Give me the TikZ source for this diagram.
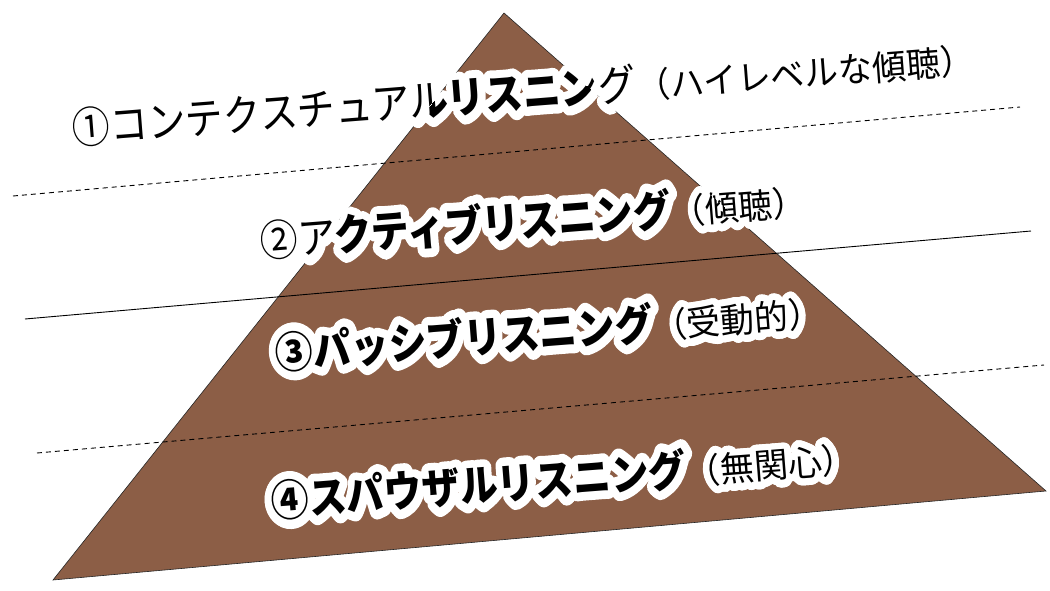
\documentclass[tikz,border=0pt]{standalone}
\usepackage{fontspec}
\newfontfamily\jp{Noto Sans CJK JP}
\newfontfamily\jphalo[FakeBold=40]{Noto Sans CJK JP}
\definecolor{pyrbrown}{RGB}{140,94,70}
\newcommand\mainf{\jp\fontsize{43}{45}\selectfont}
\newcommand\parf{\jp\fontsize{35}{37}\selectfont}
\newcommand\mainpart[2]{\scalebox{0.88}[1]{\mainf#1 #2}}
\newcommand\parpart[1]{\scalebox{0.97}[1]{\parf #1}}
\newcommand\haloed[1]{%
  \makebox[0pt][l]{\pgfsetroundjoin\color{white}\let\jp\jphalo #1}#1}
\tikzset{
  lbl/.style={anchor=base west, inner sep=0pt, outer sep=0pt, rotate=4.5},
  divider/.style={line width=0.9pt, black},
  dashdiv/.style={divider, dash pattern=on 5pt off 4pt},
}
\newcommand\pyrlabels[2]{%
  \node[lbl] (#2one) at (65.2,144.8)
    {\haloed{\mainpart{#1}{①コンテクスチュアルリスニング}\parpart{（ハイレベルな傾聴）}}};
  \node[lbl] (#2two) at (252.9,258.4)
    {\haloed{\mainpart{#1}{②アクティブリスニング}\parpart{（傾聴）}}};
  \node[lbl] (#2three) at (268.2,369.8)
    {\haloed{\mainpart{#1}{③パッシブリスニング}\parpart{（受動的）}}};
  \node[lbl] (#2four) at (263.9,518.5)
    {\haloed{\mainpart{#1}{④スパウザルリスニング}\parpart{（無関心）}}};
}
\begin{document}
\begin{tikzpicture}[x=1pt,y=-1pt]
\useasboundingbox (0,0) rectangle (1050,590);
\coordinate (apex) at (504,13);
\coordinate (bl) at (53,580);
\coordinate (br) at (1046,491);
\coordinate (d1a) at (13,196);
\coordinate (d1b) at (1020,107);
\coordinate (s1a) at (25,319);
\coordinate (s1b) at (1031,231);
\coordinate (d2a) at (37,453);
\coordinate (d2b) at (1044,365);
\fill[pyrbrown, draw=black!85, line width=0.6pt] (apex) -- (bl) -- (br) -- cycle;
\draw[dashdiv] (d1a) -- (d1b);
\draw[divider] (s1a) -- (s1b);
\draw[dashdiv] (d2a) -- (d2b);
\pyrlabels{\mdseries}{r}
\begin{scope}
  \clip (apex) -- (bl) -- (br) -- cycle;
  \pyrlabels{\bfseries}{b}
\end{scope}
\end{tikzpicture}
\end{document}
